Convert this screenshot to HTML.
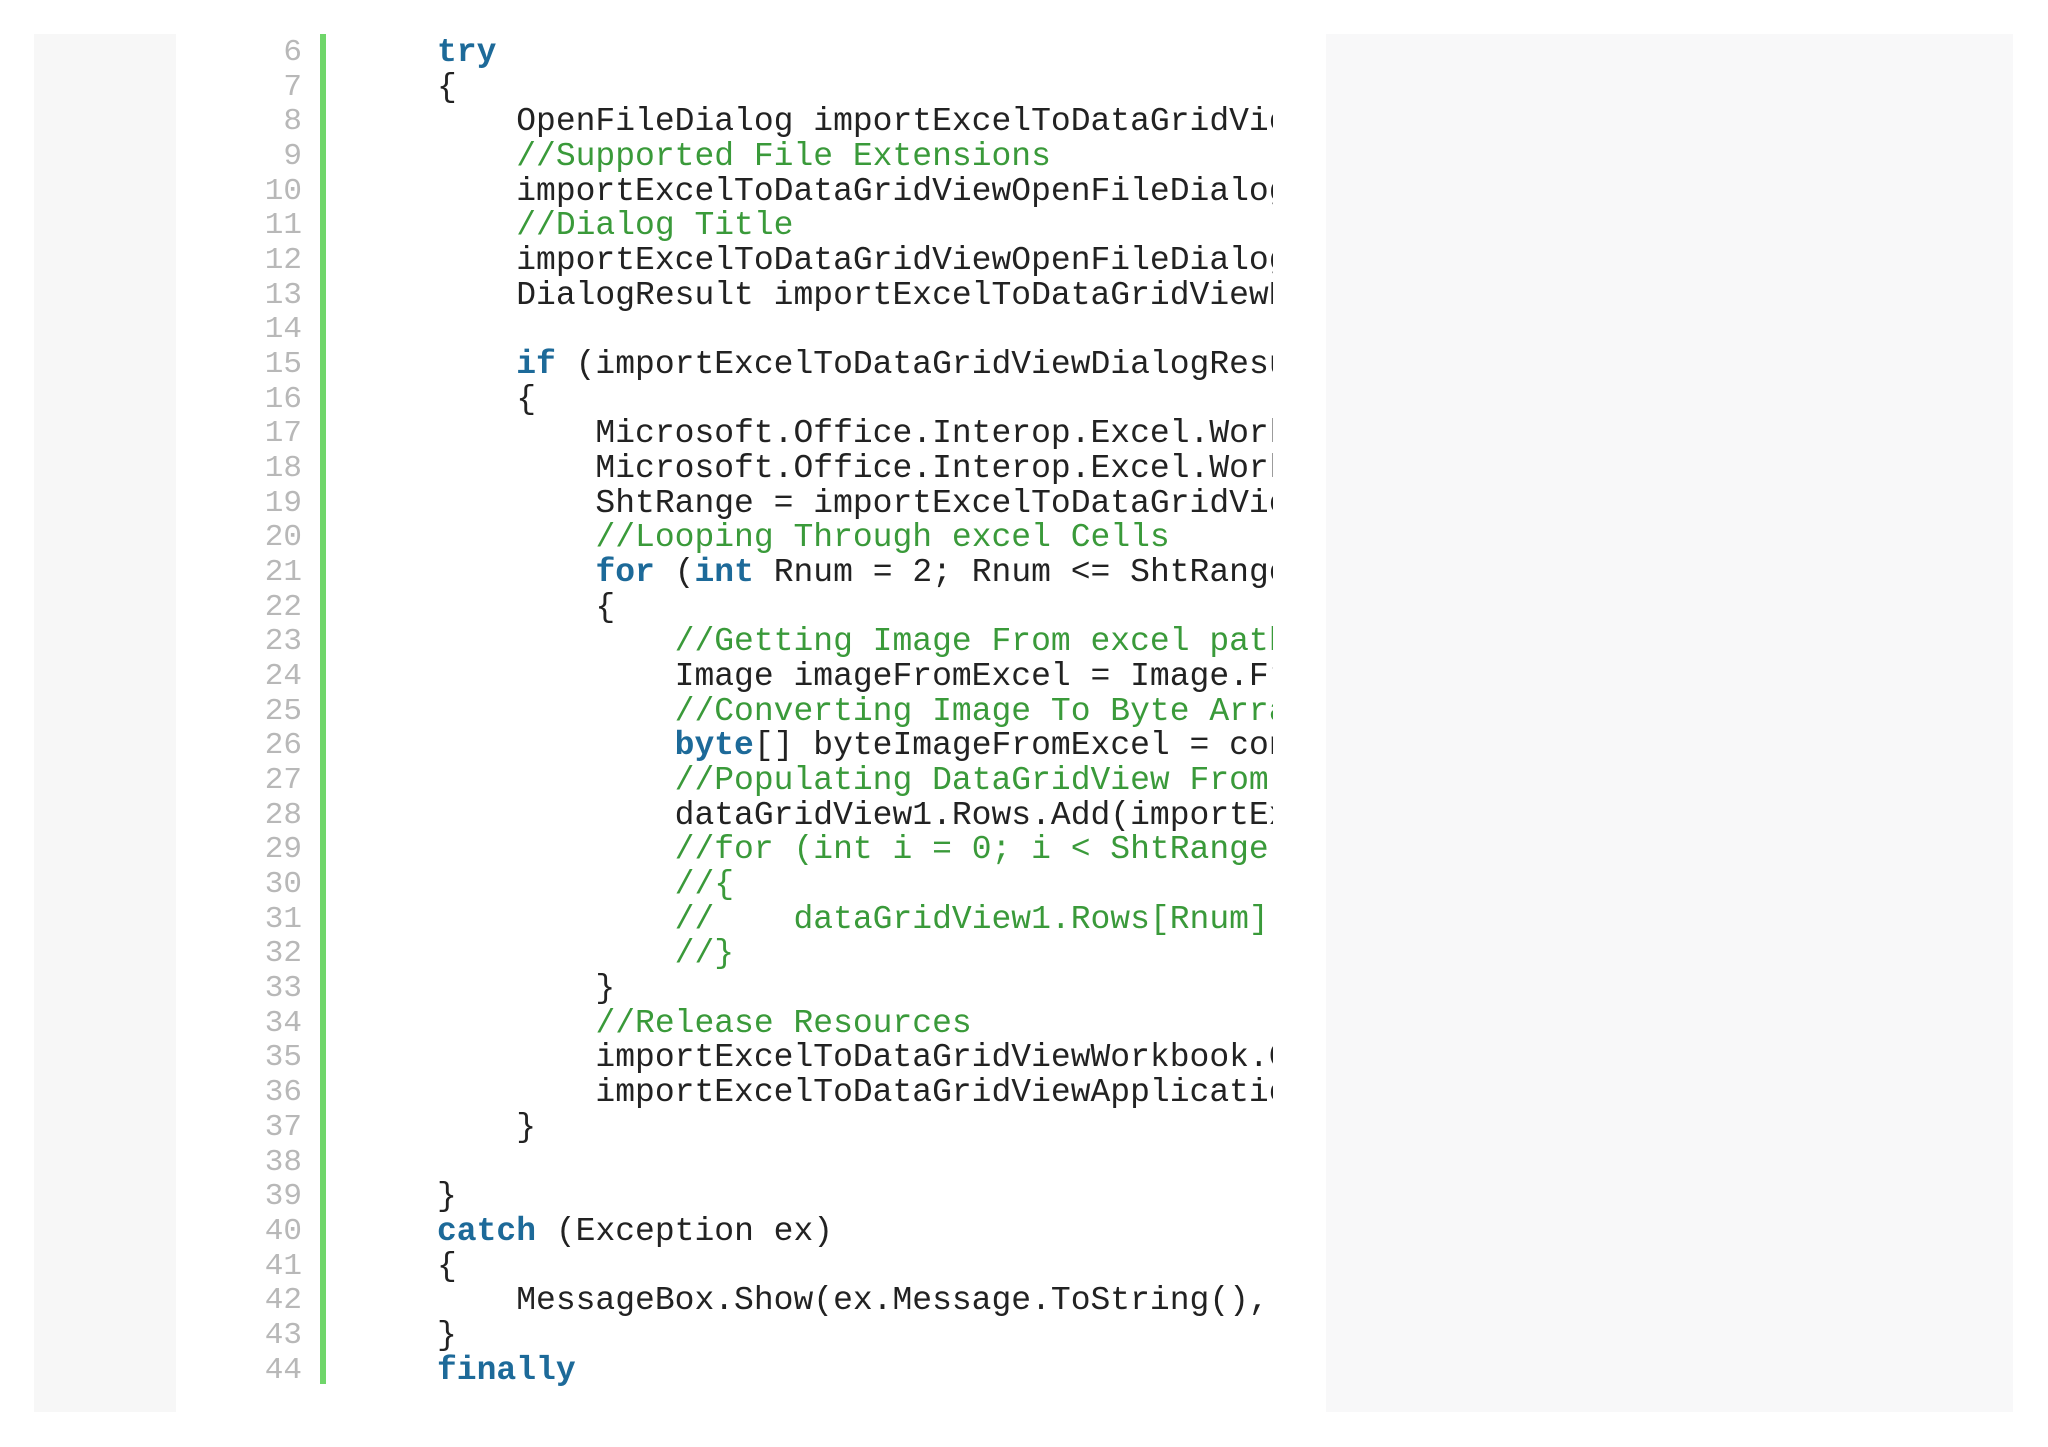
<!DOCTYPE html>
<html><head><meta charset="utf-8"><style>
html,body{margin:0;padding:0;background:#fff;width:2048px;height:1447px;overflow:hidden;position:relative}
.lp{position:absolute;left:34px;top:34px;width:142px;height:1378px;background:#f7f7f7}
.rp{position:absolute;left:1326px;top:34px;width:687px;height:1378px;background:#f8f8f9}
.bar{position:absolute;left:320px;top:34px;width:6px;height:1350px;background:#6fd66a}
.nums{position:absolute;left:200px;top:36px;width:102px;text-align:right;font:31px/34.67px "Liberation Mono",monospace;color:#b8b8b8}
.code{position:absolute;left:437px;top:36px;width:836px;overflow:hidden;font:33px/34.67px "Liberation Mono",monospace;color:#222;white-space:pre}
.k{color:#1d6a99;font-weight:bold}.c{color:#3a9a3a}
</style></head><body>
<div class="lp"></div><div class="rp"></div><div class="bar"></div>
<div class="nums">6<br>7<br>8<br>9<br>10<br>11<br>12<br>13<br>14<br>15<br>16<br>17<br>18<br>19<br>20<br>21<br>22<br>23<br>24<br>25<br>26<br>27<br>28<br>29<br>30<br>31<br>32<br>33<br>34<br>35<br>36<br>37<br>38<br>39<br>40<br>41<br>42<br>43<br>44</div>
<div class="code"><span class="k">try</span>
{
    OpenFileDialog importExcelToDataGridViewOpenFileDialog
    <span class="c">//Supported File Extensions</span>
    importExcelToDataGridViewOpenFileDialog.Filter
    <span class="c">//Dialog Title</span>
    importExcelToDataGridViewOpenFileDialog.Title
    DialogResult importExcelToDataGridViewDialogResult
 
    <span class="k">if</span> (importExcelToDataGridViewDialogResult ==
    {
        Microsoft.Office.Interop.Excel.Workbook
        Microsoft.Office.Interop.Excel.Worksheet
        ShtRange = importExcelToDataGridViewWorksheet
        <span class="c">//Looping Through excel Cells</span>
        <span class="k">for</span> (<span class="k">int</span> Rnum = 2; Rnum &lt;= ShtRange.Rows
        {
            <span class="c">//Getting Image From excel path</span>
            Image imageFromExcel = Image.FromFile
            <span class="c">//Converting Image To Byte Array</span>
            <span class="k">byte</span>[] byteImageFromExcel = converter
            <span class="c">//Populating DataGridView From Excel</span>
            dataGridView1.Rows.Add(importExcel
            <span class="c">//for (int i = 0; i &lt; ShtRange.Columns</span>
            <span class="c">//{</span>
            <span class="c">//    dataGridView1.Rows[Rnum].Cells</span>
            <span class="c">//}</span>
        }
        <span class="c">//Release Resources</span>
        importExcelToDataGridViewWorkbook.Close
        importExcelToDataGridViewApplication.Quit
    }
 
}
<span class="k">catch</span> (Exception ex)
{
    MessageBox.Show(ex.Message.ToString(), "Error"
}
<span class="k">finally</span></div>
</body></html>
